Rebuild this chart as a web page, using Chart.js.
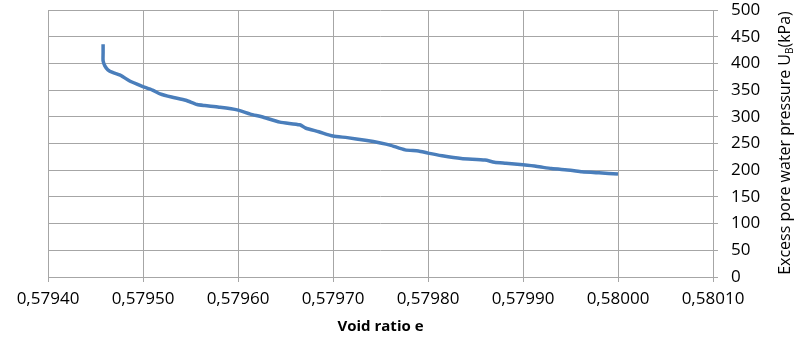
<!DOCTYPE html>
<html>
<head>
<meta charset="utf-8">
<script src="https://cdn.jsdelivr.net/npm/chart.js@4"></script>
<style>
  html, body { margin: 0; padding: 0; background: #fff; }
  #wrap { width: 794px; height: 340px; }
</style>
</head>
<body>
<div id="wrap"><canvas id="voidChart" width="794" height="340"></canvas></div>
<script>
// void ratio e (x) and excess pore water pressure U_B in kPa (y)
const voidRatio = [
  0.579458, 0.579458, 0.579458, 0.579460, 0.579463, 0.579468, 0.579476, 0.579486,
  0.579498, 0.579510, 0.579518, 0.579530, 0.579545, 0.579557, 0.579565, 0.579580,
  0.579599, 0.579613, 0.579625, 0.579644, 0.579665, 0.579671, 0.579685, 0.579700,
  0.579715, 0.579734, 0.579750, 0.579760, 0.579776, 0.579790, 0.579800, 0.579815,
  0.579835, 0.579860, 0.579870, 0.579882, 0.579900, 0.579915, 0.579930, 0.579950,
  0.579962, 0.579980, 0.580000
];
const porePressure = [
  436, 420, 405, 395, 388, 383, 378, 367,
  358, 350, 343, 337, 331, 323, 321, 318,
  313, 305, 300, 290, 285, 279, 272, 264,
  261, 256, 251, 247, 238, 236, 232, 227,
  222, 219, 215, 213, 210, 207, 203, 200,
  197, 195, 193
];
const xTicks = [0.5794, 0.5795, 0.5796, 0.5797, 0.5798, 0.5799, 0.5800, 0.5801];
const yTicks = [0, 50, 100, 150, 200, 250, 300, 350, 400, 450, 500];

const gridColor = "#a6a6a6";
const fontFam = "'Open Sans', 'Liberation Sans', sans-serif";

// right-side title, reading bottom to top with a subscript B
const yTitlePlugin = {
  id: "yTitle",
  afterDraw(chart) {
    const c = chart.ctx;
    c.save();
    c.translate(785, 143);
    c.rotate(-Math.PI / 2);
    c.fillStyle = "#000";
    c.textBaseline = "middle";
    const main = "Excess pore water pressure U";
    const sub = "B";
    const tail = "(kPa)";
    c.font = "16px " + fontFam;
    const w1 = c.measureText(main).width;
    const w3 = c.measureText(tail).width;
    c.font = "10px " + fontFam;
    const w2 = c.measureText(sub).width;
    let x = -(w1 + w2 + w3) / 2;
    c.font = "16px " + fontFam;
    c.textAlign = "left";
    c.fillText(main, x, 0);
    x += w1;
    c.font = "10px " + fontFam;
    c.fillText(sub, x, 5);
    x += w2;
    c.font = "16px " + fontFam;
    c.fillText(tail, x, 0);
    c.restore();
  }
};

const ctx = document.getElementById("voidChart").getContext("2d");
const points = voidRatio.map((e, i) => ({ x: e, y: porePressure[i] }));

new Chart(ctx, {
  type: "scatter",
  data: {
    datasets: [{
      label: "U_B",
      data: points,
      showLine: true,
      borderColor: "#4a7ebb",
      backgroundColor: "#4a7ebb",
      borderWidth: 3.5,
      pointRadius: 0,
      tension: 0.2
    }]
  },
  options: {
    responsive: false,
    animation: false,
    layout: { padding: { left: 48, top: 10, right: 0, bottom: 0 } },
    plugins: { legend: { display: false }, tooltip: { enabled: false } },
    scales: {
      x: {
        type: "linear",
        min: 0.5794,
        max: 0.5801,
        afterBuildTicks: axis => { axis.ticks = xTicks.map(v => ({ value: v })); },
        afterFit: axis => { axis.height = 63; axis.paddingLeft = 0; axis.paddingRight = 0; },
        grid: { color: gridColor, tickLength: 5, tickColor: gridColor },
        border: { color: gridColor },
        ticks: {
          color: "#000",
          font: { family: fontFam, size: 17 },
          padding: 7,
          maxRotation: 0,
          callback: v => v.toFixed(5).replace(".", ",")
        },
        title: {
          display: true,
          text: "Void ratio e",
          color: "#000",
          font: { family: fontFam, size: 15, weight: "bold" },
          padding: { top: 0 }
        }
      },
      y: {
        position: "right",
        min: 0,
        max: 500,
        afterBuildTicks: axis => { axis.ticks = yTicks.map(v => ({ value: v })); },
        afterFit: axis => { axis.width = 81; axis.paddingTop = 0; axis.paddingBottom = 0; },
        grid: { color: gridColor, tickLength: 5, tickColor: gridColor },
        border: { color: gridColor },
        ticks: {
          color: "#000",
          font: { family: fontFam, size: 17 },
          padding: 13
        }
      }
    }
  },
  plugins: [yTitlePlugin]
});
</script>
</body>
</html>
